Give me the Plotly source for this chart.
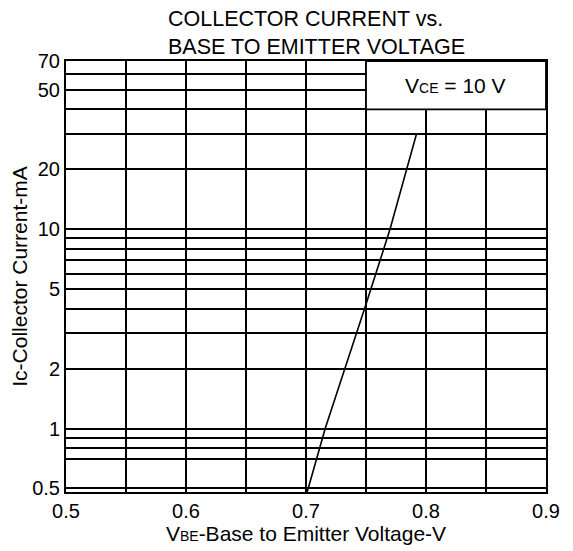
import plotly.graph_objects as go

# Curve
vbe = [0.701, 0.716, 0.750, 0.770, 0.792]
ic_ma = [0.48, 1.0, 4.2, 10.0, 30.0]

x_grid = [0.5, 0.55, 0.6, 0.65, 0.7, 0.75, 0.8, 0.85, 0.9]
x_text = ["0.5", "", "0.6", "", "0.7", "", "0.8", "", "0.9"]
y_grid = [0.5, 0.7, 0.8, 0.9, 1, 2, 3, 4, 5, 6, 7, 8, 9, 10, 20, 30, 40, 50, 60, 70]
y_text = ["0.5", "", "", "", "1", "2", "", "", "5", "", "", "", "", "10", "20", "", "", "50", "", "70"]

box_x = [0.75, 0.9]
box_y = [40, 70]

FONT = "Liberation Sans, Arial, sans-serif"

fig = go.Figure()
fig.add_trace(go.Scatter(x=vbe, y=ic_ma, mode="lines",
                         line=dict(color="black", width=1.6),
                         showlegend=False, hoverinfo="skip"))

fig.update_layout(
    width=565, height=543,
    margin=dict(l=58, r=26.5, t=53, b=58.5, autoexpand=False),
    paper_bgcolor="white", plot_bgcolor="white",
    font=dict(family=FONT, color="black"),
    showlegend=False,
)

fig.update_xaxes(range=[0.5, 0.9], tickmode="array", tickvals=x_grid, ticktext=x_text,
                 showgrid=True, gridcolor="black", gridwidth=1.7, automargin=False,
                 showline=True, linecolor="black", linewidth=2, mirror=True,
                 ticks="", ticklabelstandoff=0, zeroline=False,
                 tickfont=dict(size=20, family=FONT),
                 title=dict(text="V<span style='font-size:14px'>BE</span>-Base to Emitter Voltage-V",
                            font=dict(size=21, family=FONT), standoff=0))
fig.update_yaxes(type="log", range=[-0.3188, 1.8451], tickmode="array",
                 tickvals=y_grid, ticktext=y_text, automargin=False,
                 showgrid=True, gridcolor="black", gridwidth=1.7,
                 showline=True, linecolor="black", linewidth=2, mirror=True,
                 ticks="", ticklabelstandoff=0, zeroline=False,
                 tickfont=dict(size=20, family=FONT),
                 title=dict(text="Ic-Collector Current-mA", font=dict(size=21, family=FONT), standoff=4))

fig.add_shape(type="rect", xref="x", yref="y", x0=box_x[0], x1=box_x[1], y0=box_y[0], y1=box_y[1],
              fillcolor="white", line=dict(color="black", width=1.8), layer="above")
fig.add_annotation(xref="paper", yref="paper", x=0.8116, xanchor="center", y=1, yanchor="top", yshift=-11,
                   showarrow=False,
                   text="V<span style='font-size:14px'>CE</span> = 10 V",
                   font=dict(size=21, family=FONT))

fig.add_annotation(xref="paper", yref="paper", x=0.208, xanchor="left", y=1, yanchor="bottom", yshift=0,
                   showarrow=False, align="left",
                   text="COLLECTOR CURRENT vs.<br>BASE TO EMITTER VOLTAGE",
                   font=dict(size=21.5, family=FONT))

fig.write_html("out.html")
